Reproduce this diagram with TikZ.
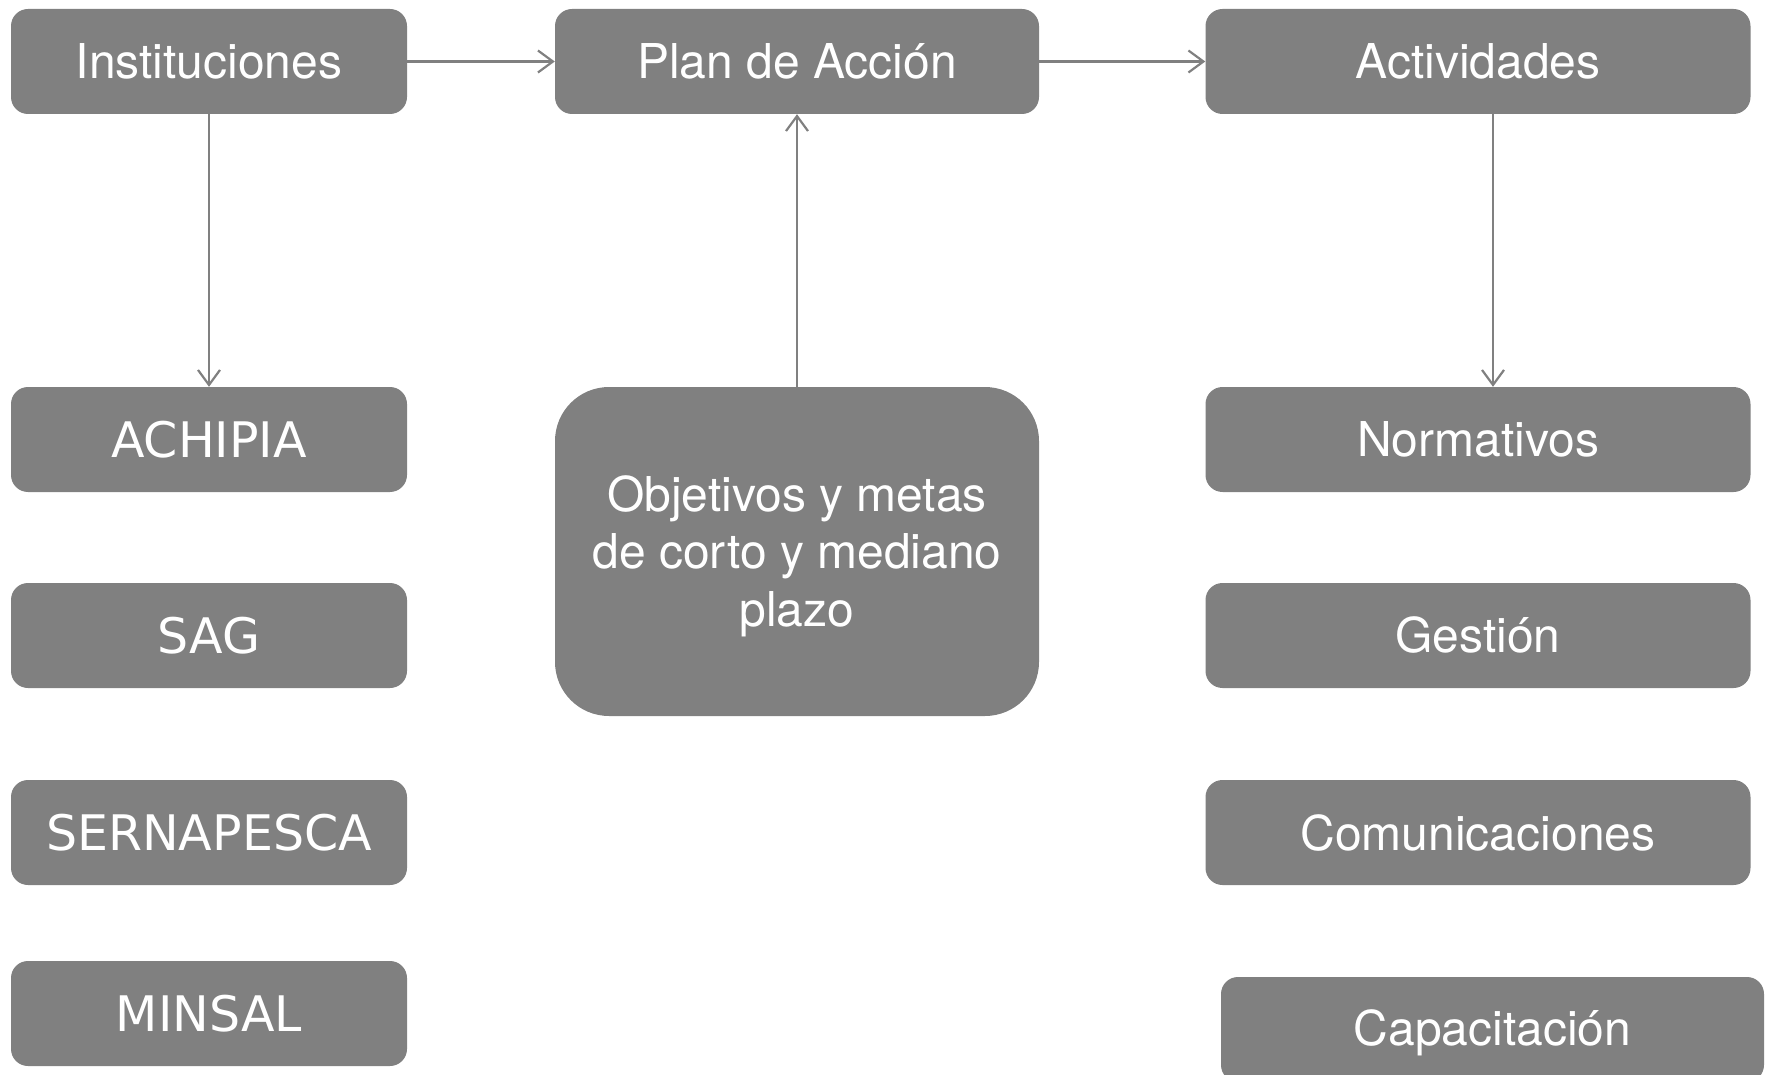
\documentclass[tikz,border=0pt]{standalone}
\usepackage{fontspec}
\setmainfont{TeX Gyre Heros}
\newfontfamily\dvfont{DejaVu Sans}
\usetikzlibrary{arrows.meta}
\definecolor{boxgray}{RGB}{128,128,128}
\tikzset{
  box/.style={fill=boxgray, rounded corners=17pt, text=white, align=center,
    inner sep=0pt, font=\fontsize{48}{57.5}\selectfont},
  lbox/.style={box, minimum width=396pt, minimum height=105pt},
  cbox/.style={box, minimum width=484pt, minimum height=105pt},
  rbox/.style={box, minimum width=545pt, minimum height=105pt},
  inst/.style={font=\dvfont\fontsize{49}{58}\selectfont},
  arr/.style={draw=boxgray, line width=2.2pt, -{Straight Barb[length=15pt,width=22pt,line width=2.2pt]}}
}
\begin{document}
\begin{tikzpicture}[x=1pt,y=-1pt]
\useasboundingbox (0,0) rectangle (1765,1075);
\clip (0,0) rectangle (1765,1075);
% left column
\node[lbox] (inst) at (209,61.5) {Instituciones};
\node[lbox,inst] (achipia) at (209,439.5) {ACHIPIA};
\node[lbox,inst] (sag) at (209,635.5) {SAG};
\node[lbox,inst] (sern) at (209,832.5) {SERNAPESCA};
\node[lbox,inst] (minsal) at (209,1013.5) {MINSAL};
% center column
\node[cbox] (plan) at (797,61.5) {Plan de Acción};
\node[box, rounded corners=54pt, minimum width=484pt, minimum height=329pt] (obj) at (797,551.5) {};
\node[text=white, align=center, inner sep=0pt, font=\fontsize{48}{57.5}\selectfont] (objt) at (797,556) {Objetivos y metas\\de corto y mediano\\plazo};
% right column
\node[rbox] (act) at (1478,61.5) {Actividades};
\node[rbox] (norm) at (1478,439.5) {Normativos};
\node[rbox] (gest) at (1478,635.5) {Gestión};
\node[rbox] (com) at (1478,832.5) {Comunicaciones};
\node[box, minimum width=543pt, minimum height=105pt] (cap) at (1492.5,1029.5) {};
\node[text=white, inner sep=0pt, font=\fontsize{48}{57.5}\selectfont] (capt) at (1492.5,1033) {Capacitación};
% connectors
\draw[arr] (inst.east) -- (plan.west);
\draw[arr] (plan.east) -- (act.west);
\draw[arr] (inst.south) -- (achipia.north);
\draw[arr] (obj.north) -- (plan.south);
\draw[arr] ([xshift=15pt]act.south) -- ([xshift=15pt]norm.north);
\end{tikzpicture}
\end{document}
